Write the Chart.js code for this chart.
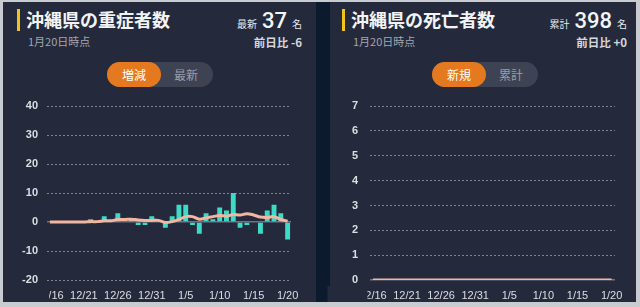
<!DOCTYPE html>
<html lang="ja">
<head>
<meta charset="utf-8">
<script src="https://cdn.jsdelivr.net/npm/chart.js@4.4.0/dist/chart.umd.min.js"></script>
<style>
  html, body { margin: 0; padding: 0; }
  body {
    width: 640px; height: 307px; position: relative; overflow: hidden;
    background: #c8cbd0;
    font-family: "Noto Sans CJK JP", "Noto Sans", sans-serif;
  }
  .fondo { position: absolute; left: 3px; top: 2px; width: 633px; height: 300px; background: #0b1a2c; }
  .panel { position: absolute; top: 2px; height: 300px; background: #242a3c; }
  .barra { position: absolute; top: 9px; width: 3px; height: 22px; background: #f2c31b; }
  .titulo { position: absolute; top: 9px; font-size: 18px; font-weight: bold; color: #f2f3f5; line-height: 1.2; white-space: nowrap; }
  .fecha { position: absolute; top: 34px; font-size: 11px; color: #a3a6ae; line-height: 1.4; }
  .ultimo { position: absolute; top: 8px; display: flex; align-items: baseline; color: #e8e9ec; white-space: nowrap; }
  .ultimo .mini { font-size: 10px; }
  .ultimo .num { font-family: Roboto, sans-serif; font-size: 22px; font-weight: 500; margin: 0 5px 0 5px; color: #f4f5f7; }
  .diff { position: absolute; top: 34px; font-size: 11.5px; font-weight: bold; color: #d6d8dc; line-height: 1.4; white-space: nowrap; }
  .toggle { position: absolute; top: 62px; width: 106px; height: 25px; border-radius: 13px; background: #3e4354; }
  .toggle span { position: absolute; top: 0; width: 54px; height: 25px; line-height: 25px; text-align: center; font-size: 12px; border-radius: 13px; }
  .toggle .activo { left: 0; background: #e5791f; color: #ffffff; }
  .toggle .inactivo { left: 52px; color: #9a9eaa; }
  .lienzo { position: absolute; width: 320px; }
</style>
</head>
<body>
<div class="fondo"></div>
<div class="panel" style="left:3px; width:313px;"></div>
<div class="panel" style="left:330px; width:306px;"></div>

<!-- Panel izquierdo: 重症者数 -->
<div class="barra" style="left:17px;"></div>
<div class="titulo" style="left:26px;">沖縄県の重症者数</div>
<div class="fecha" style="left:28px;">1月20日時点</div>
<div class="ultimo" style="right:338px;"><span class="mini">最新</span><span class="num">37</span><span class="mini">名</span></div>
<div class="diff" style="right:338px;">前日比 -6</div>
<div class="toggle" style="left:107px;"><span class="activo">増減</span><span class="inactivo">最新</span></div>
<div class="lienzo" style="left:0px; top:91px; height:216px;"><canvas id="graficoSeveros"></canvas></div>

<!-- Panel derecho: 死亡者数 -->
<div class="barra" style="left:342px;"></div>
<div class="titulo" style="left:351px;">沖縄県の死亡者数</div>
<div class="fecha" style="left:353px;">1月20日時点</div>
<div class="ultimo" style="right:13px;"><span class="mini">累計</span><span class="num">398</span><span class="mini">名</span></div>
<div class="diff" style="right:13px;">前日比 +0</div>
<div class="toggle" style="left:432px;"><span class="activo">新規</span><span class="inactivo">累計</span></div>
<div class="lienzo" style="left:320px; top:88px; height:219px;"><canvas id="graficoMuertes"></canvas></div>

<script>
// Datos
const fechas = ['12/16', '12/17', '12/18', '12/19', '12/20', '12/21', '12/22', '12/23', '12/24', '12/25',
  '12/26', '12/27', '12/28', '12/29', '12/30', '12/31', '1/1', '1/2', '1/3', '1/4', '1/5', '1/6', '1/7',
  '1/8', '1/9', '1/10', '1/11', '1/12', '1/13', '1/14', '1/15', '1/16', '1/17', '1/18', '1/19', '1/20'];
const etiquetasX = ['12/16', '12/21', '12/26', '12/31', '1/5', '1/10', '1/15', '1/20'];

// 重症者数 増減 (barras) y promedio de 7 días (línea)
const severosDiff = [0, 0, 0, 0, 0, 0, 1, 0, 2, 0, 3, 0, 1, -1, -1, 2, 0, -2, 2, 6, 6, -1, -4, 3, 1,
  5, 4, 10, -2, -1, 0, -4, 4, 6, 3, -6];
const severosPromedio = [0, 0, 0, 0, 0, 0, 0.14, 0.14, 0.43, 0.43, 0.86, 0.86, 1.0, 0.71, 0.57, 0.57,
  0.57, -0.14, 0.14, 0.86, 1.86, 1.86, 1.0, 1.43, 1.86, 2.29, 2.0, 2.57, 2.43, 2.86, 2.43, 1.71, 1.57,
  1.86, 0.86, 0.29];
const ticksSeveros = [-20, -10, 0, 10, 20, 30, 40];

// 死亡者数 新規 (barras) y promedio (línea)
const muertesNuevas = [0, 0, 0, 0, 0, 0, 0, 0, 0, 0, 0, 0, 0, 0, 0, 0, 0, 0, 0, 0, 0, 0, 0, 0, 0, 0,
  0, 0, 0, 0, 0, 0, 0, 0, 0, 0];
const muertesPromedio = [0, 0, 0, 0, 0, 0, 0, 0, 0, 0, 0, 0, 0, 0, 0, 0, 0, 0, 0, 0, 0, 0, 0, 0, 0, 0,
  0, 0, 0, 0, 0, 0, 0, 0, 0, 0];
const ticksMuertes = [0, 1, 2, 3, 4, 5, 6, 7];

const colorPanel = '#242a3c';
const colorBarra = '#3ddbc7';
const colorLinea = '#f3b6a0';
const colorTexto = '#dcdee3';

// Tapa la parte izquierda de la primera etiqueta (el gráfico original hace scroll)
const recorteEtiqueta = {
  id: 'recorteEtiqueta',
  afterDraw(chart, args, opts) {
    const { ctx, chartArea, scales } = chart;
    const x = scales.x.getPixelForTick(0) + opts.desfase;
    ctx.save();
    ctx.fillStyle = colorPanel;
    ctx.fillRect(x - 40, chartArea.bottom + 6, 40, 16);
    ctx.restore();
  }
};

function crearGrafico(id, barras, linea, ticksY, anchoEje, paddingDerecho, desfase) {
  return new Chart(document.getElementById(id), {
    type: 'bar',
    data: {
      labels: fechas,
      datasets: [
        {
          type: 'line',
          data: linea,
          borderColor: colorLinea,
          borderWidth: 3,
          pointRadius: 0,
          tension: 0.4,
          order: 0
        },
        {
          type: 'bar',
          data: barras,
          backgroundColor: colorBarra,
          barPercentage: 0.72,
          categoryPercentage: 1.0,
          order: 1
        }
      ]
    },
    options: {
      responsive: true,
      maintainAspectRatio: false,
      animation: false,
      layout: { padding: { top: 0, right: paddingDerecho, bottom: 0, left: 0 } },
      plugins: {
        legend: { display: false },
        tooltip: { enabled: false },
        recorteEtiqueta: { desfase: desfase }
      },
      scales: {
        x: {
          grid: { display: false, drawTicks: false },
          border: { display: false },
          afterFit: (scale) => { scale.height = 27; },
          ticks: {
            autoSkip: false,
            maxRotation: 0,
            padding: 9,
            color: colorTexto,
            font: { family: 'Liberation Sans', size: 11 },
            callback: function (value, index) {
              const label = fechas[index];
              return etiquetasX.includes(label) ? label : '';
            }
          }
        },
        y: {
          min: ticksY[0],
          max: ticksY[ticksY.length - 1],
          afterFit: (scale) => { scale.width = anchoEje; },
          afterBuildTicks: (scale) => { scale.ticks = ticksY.map(v => ({ value: v })); },
          grid: {
            drawTicks: false,
            color: (ctx) => (ctx.tick && ctx.tick.value === 0 ? '#6f7380' : '#7f8391'),
            lineWidth: (ctx) => (ctx.tick && ctx.tick.value === 0 ? 1.5 : 1)
          },
          border: {
            display: false,
            dash: (ctx) => (ctx.tick && ctx.tick.value === 0 ? [] : [2, 2])
          },
          ticks: {
            padding: anchoEje - 38,
            color: colorTexto,
            font: { family: 'Liberation Sans', size: 11, weight: 'bold' }
          }
        }
      }
    },
    plugins: [recorteEtiqueta]
  });
}

crearGrafico('graficoSeveros', severosDiff, severosPromedio, ticksSeveros, 46.5, 29, -0.8);
crearGrafico('graficoMuertes', muertesNuevas, muertesPromedio, ticksMuertes, 49.5, 25, -5.5);
</script>
</body>
</html>
